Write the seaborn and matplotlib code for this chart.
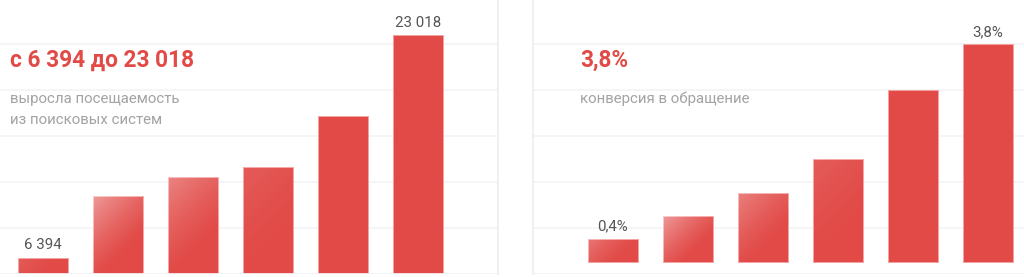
import numpy as np
import matplotlib
matplotlib.use("Agg")
import matplotlib.pyplot as plt
import seaborn as sns

# ---- data ----
periods = ["1", "2", "3", "4", "5", "6"]
visits = [6394, 11000, 12400, 13200, 17000, 23018]
visit_labels = ["6 394", "", "", "", "", "23 018"]
conversion = [0.4, 0.8, 1.2, 1.8, 3.0, 3.8]
conversion_labels = ["0,4%", "", "", "", "", "3,8%"]
left_title = "с 6 394 до 23 018"
left_sub = "выросла посещаемость\nиз поисковых систем"
right_title = "3,8%"
right_sub = "конверсия в обращение"

# ---- style ----
sns.set_theme(style="white")
plt.rcParams["font.family"] = ["Roboto", "DejaVu Sans"]
RED = "#e14a47"
EDGE = "#f5a3a1"
GRID = "#f2f3f5"
W, H = 1024, 277
fig = plt.figure(figsize=(W / 100, H / 100), dpi=100)

def px_axes(x0, x1, y_top, y_bot):
    return fig.add_axes([x0 / W, 1 - y_bot / H, (x1 - x0) / W, (y_bot - y_top) / H])

axL = px_axes(0, 498, 0, 274)
axR = px_axes(533, 1030, 0, 274)

def draw(ax, vals, labels, ylim, xlim, strengths):
    sns.barplot(x=periods, y=vals, ax=ax, color=RED, saturation=1, width=0.667)
    ax.set_xlim(*xlim)
    ax.set_ylim(*ylim)
    lo, hi = ylim
    step = (hi - lo) * 46 / 274
    ax.set_yticks(lo + step * np.arange(6))
    ax.yaxis.grid(True, color=GRID, linewidth=1.2)
    ax.set_axisbelow(True)
    ax.tick_params(left=False, bottom=False, labelleft=False, labelbottom=False)
    ax.set_xlabel("")
    ax.set_ylabel("")
    for s in ax.spines.values():
        s.set_visible(False)
    # gradient overlay per bar
    n = 120
    yy, xx = np.mgrid[0:1:n * 1j, 0:1:n * 1j]
    for patch, s in zip(ax.patches, strengths):
        patch.set_edgecolor(EDGE)
        patch.set_linewidth(0.7)
        if s <= 0:
            continue
        x0 = patch.get_x()
        w = patch.get_width()
        top = patch.get_y() + patch.get_height()
        bot = max(patch.get_y(), lo)
        hpx = (top - bot) / (hi - lo) * 274
        wpx = 50.0
        d = (xx * wpx + yy * hpx) / (wpx + hpx) * 2
        d = np.clip(d / 1.4, 0, 1)
        alpha = s * (1 - d) ** 1.3
        img = np.ones((n, n, 4))
        img[..., 3] = alpha
        im = ax.imshow(img, extent=(x0, x0 + w, bot, top), origin="upper",
                       aspect="auto", interpolation="bilinear", zorder=patch.get_zorder() + 0.1)
        im.set_clip_path(patch)
    ax.set_xlim(*xlim)
    ax.set_ylim(*ylim)
    for i, (v, lab) in enumerate(zip(vals, labels)):
        if lab:
            ax.annotate(lab, (i, v), xytext=(0, 6), textcoords="offset points",
                        ha="center", va="baseline", fontsize=10.8, color="#555555")

draw(axL, visits, visit_labels, (5177, 5177 + 274 * 74.65), (-0.573, 6.07),
     [0.1, 0.45, 0.32, 0.1, 0.0, 0.0])
draw(axR, conversion, conversion_labels, (-0.217, -0.217 + 274 * 0.01749), (-1.06, 5.56),
     [0.25, 0.45, 0.3, 0.1, 0.0, 0.0])

for ax in (axL, axR):
    ax.axhline(ax.get_ylim()[0], color=GRID, linewidth=2)
axL.spines["right"].set_visible(True)
axL.spines["right"].set_color("#eceef2")
axR.spines["left"].set_visible(True)
axR.spines["left"].set_color("#eceef2")

def ftxt(x, y, s, **kw):
    fig.text(x / W, 1 - y / H, s, va="baseline", ha="left", **kw)

ftxt(10, 66.5, left_title, fontsize=16.3, fontweight="bold", color=RED)
ftxt(10, 103, left_sub.split("\n")[0], fontsize=10.8, color="#a3a3a3")
ftxt(10, 124, left_sub.split("\n")[1], fontsize=10.8, color="#a3a3a3")
ftxt(580, 66.5, right_title, fontsize=16.3, fontweight="bold", color=RED)
ftxt(580, 103, right_sub, fontsize=10.8, color="#a3a3a3")

fig.savefig("out.png", dpi=100, facecolor="white")
